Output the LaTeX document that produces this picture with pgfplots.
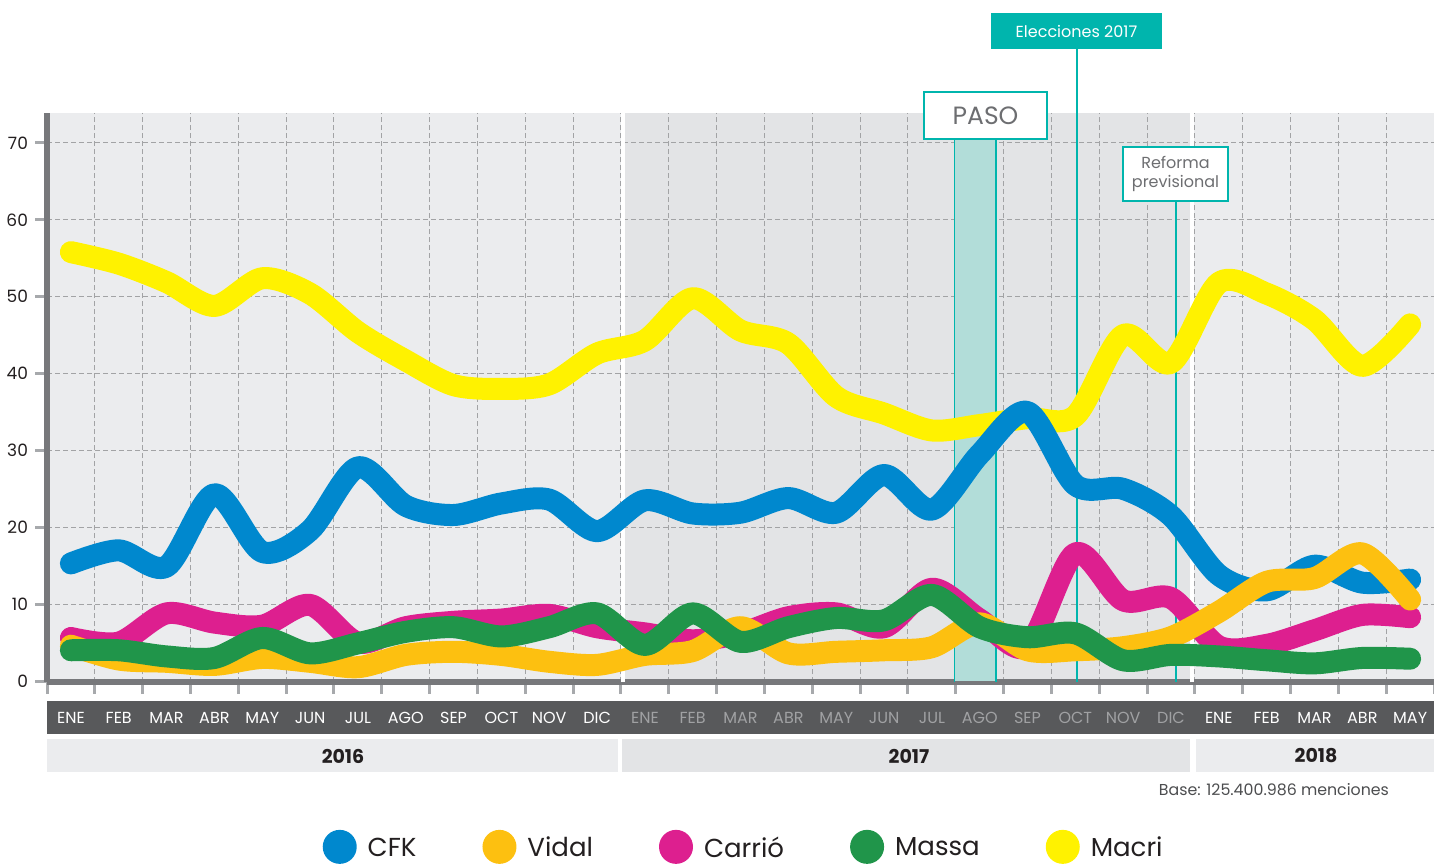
\documentclass[border=0pt]{standalone}
\usepackage{pgfplots}
\usepackage{pgfplotstable}
\pgfplotsset{compat=1.18}
\usepackage{fontspec}
\setmainfont{Poppins}

\definecolor{cfk}{HTML}{0088CE}
\definecolor{vidal}{HTML}{FDC010}
\definecolor{carrio}{HTML}{DD1F8F}
\definecolor{massa}{HTML}{20954A}
\definecolor{macri}{HTML}{FFF200}
\definecolor{tealc}{HTML}{00B5AD}
\definecolor{pasofill}{HTML}{B2DDD9}
\definecolor{bgA}{HTML}{EBECEE}
\definecolor{bgB}{HTML}{E3E4E6}
\definecolor{axisgray}{HTML}{77787B}
\definecolor{tickgray}{HTML}{A7A9AC}
\definecolor{gridgray}{HTML}{A2A3A5}
\definecolor{bandgray}{HTML}{58595B}
\definecolor{month17}{HTML}{A0A1A3}
\definecolor{txt}{HTML}{231F20}
\definecolor{boxtxt}{HTML}{6D6E71}

% menciones por mes (%), ENE 2016 - MAY 2018
\pgfplotstableread{
x    cfk  vidal carrio massa macri
0.5  15.3 4.6   5.6    4.0   55.8
1.5  17.0 2.8   5.0    4.0   54.3
2.5  14.9 2.5   8.8    3.2   51.9
3.5  24.3 2.1   7.6    3.0   48.8
4.5  16.8 3.0   7.2    5.6   52.4
5.5  19.6 2.5   9.9    3.6   50.4
6.5  27.8 1.8   5.0    4.9   45.4
7.5  22.8 3.4   7.0    6.4   41.7
8.5  21.6 3.8   7.7    7.0   38.5
9.5  23.1 3.4   8.0    5.8   38.0
10.5 23.6 2.5   8.6    7.0   38.6
11.5 19.5 2.1   7.0    8.8   42.6
12.5 23.5 3.4   6.2    4.7   44.3
13.5 21.8 3.9   5.3    8.8   49.8
14.5 21.9 7.0   6.2    5.1   45.6
15.5 23.8 3.6   8.3    7.0   43.9
16.5 21.9 3.8   8.8    8.2   37.0
17.5 26.8 4.0   7.0    7.9   34.8
18.5 22.3 4.4   12.0   11.2  32.6
19.5 29.5 7.5   8.0    7.0   33.3
20.5 35.0 4.0   4.5    5.7   34.2
21.5 25.5 4.0   16.6   6.2   34.5
22.5 25.0 4.4   10.5   2.7   45.0
23.5 21.5 5.7   10.8   3.4   41.4
24.5 13.8 9.0   4.5    3.2   51.8
25.5 11.8 12.9  4.7    2.7   50.4
26.5 15.0 13.4  6.6    2.3   47.0
27.5 12.8 16.6  8.6    3.0   41.0
28.5 13.2 10.6  8.3    2.9   46.4
}\datatable

\begin{document}
\begin{tikzpicture}[x=0.5pt,y=-0.5pt]
\path[use as bounding box] (0,0) rectangle (1434,864);

% fondos por año
\fill[bgA] (47,113) rectangle (1434,682);
\fill[bgB] (621,113) rectangle (1193,682);

\begin{axis}[
    at={(23.5pt,-341pt)}, anchor=south west,
    scale only axis, width=693.5pt, height=284.5pt,
    xmin=0, xmax=29, ymin=-0.13, ymax=73.9,
    axis x line*=bottom, axis y line*=left,
    axis line style={-, draw=axisgray, line width=3pt},
    xtick={0,...,29}, xticklabels={},
    ytick={0,10,...,70},
    tick align=outside, major tick length=6pt,
    major tick style={draw=tickgray, line width=1.5pt},
    grid=major,
    major grid style={draw=gridgray, line width=0.5pt, dash pattern=on 2.5pt off 1.5pt},
    yticklabel style={font=\fontsize{8.5}{10}\selectfont, text=txt},
    /pgf/number format/assume math mode=true,
    legend columns=5,
    legend image code/.code={
        \fill[#1, draw=none] (8.5pt,0.8pt) circle[radius=8.5pt];},
    legend style={at={(0.503,-0.290)}, anchor=center, draw=none, fill=none,
        font=\fontsize{13}{15}\selectfont, text=txt,
        /tikz/every odd column/.append style={column sep=3.5pt},
        /tikz/every even column/.append style={column sep=31pt}},
    every axis plot/.append style={line width=11pt, smooth, line cap=round, line join=round, forget plot},
]
% separadores blancos entre años
\draw[white, line width=2pt] (axis cs:12.05,-0.13) -- (axis cs:12.05,73.9);
\draw[white, line width=2pt] (axis cs:23.94,-0.13) -- (axis cs:23.94,73.9);
% PASO y lineas de eventos
\fill[pasofill] (axis cs:18.98,0) rectangle (axis cs:19.84,70.5);
\draw[tealc, line width=0.6pt] (axis cs:18.98,-0.13) -- (axis cs:18.98,70.5)
    (axis cs:19.84,-0.13) -- (axis cs:19.84,70.5);
\draw[tealc, line width=1pt] (axis cs:21.535,-0.13) -- (axis cs:21.535,73.9);
\draw[tealc, line width=1pt] (axis cs:23.60,-0.13) -- (axis cs:23.60,62.5);

\addplot[macri] table[x=x, y=macri] {\datatable};
\addplot[cfk] table[x=x, y=cfk] {\datatable};
\addplot[carrio] table[x=x, y=carrio] {\datatable};
\addplot[vidal] table[x=x, y=vidal] {\datatable};
\addplot[massa] table[x=x, y=massa] {\datatable};

\addlegendimage{color=cfk}\addlegendentry{CFK}
\addlegendimage{color=vidal}\addlegendentry{Vidal}
\addlegendimage{color=carrio}\addlegendentry{Carrió}
\addlegendimage{color=massa}\addlegendentry{Massa}
\addlegendimage{color=macri}\addlegendentry{Macri}
\end{axis}

% cajas de eventos
\draw[tealc, line width=1pt] (1077,49) -- (1077,113);
\fill[tealc] (991,13) rectangle (1162,49);
\node[white, font=\fontsize{8}{10}\selectfont] at (1076.5,31) {Elecciones 2017};
\draw[tealc, line width=1pt, fill=white] (924,92) rectangle (1047,139);
\node[boxtxt, font=\fontsize{12.5}{14}\selectfont] at (985.5,115.5) {PASO};
\draw[tealc, line width=1pt, fill=white] (1123,147) rectangle (1228,201);
\node[boxtxt, font=\fontsize{8}{9.5}\selectfont, align=center] at (1175.5,174) {Reforma\\previsional};

% banda de meses
\fill[bandgray] (47,701) rectangle (1434,734);
\foreach \m [count=\i from 0] in {ENE,FEB,MAR,ABR,MAY,JUN,JUL,AGO,SEP,OCT,NOV,DIC}
    \node[white, font=\fontsize{8}{10}\selectfont] at ({47+47.83*(\i+0.5)},718) {\m};
\foreach \m [count=\i from 12] in {ENE,FEB,MAR,ABR,MAY,JUN,JUL,AGO,SEP,OCT,NOV,DIC}
    \node[month17, font=\fontsize{8}{10}\selectfont] at ({47+47.83*(\i+0.5)},718) {\m};
\foreach \m [count=\i from 24] in {ENE,FEB,MAR,ABR,MAY}
    \node[white, font=\fontsize{8}{10}\selectfont] at ({47+47.83*(\i+0.5)},718) {\m};

% banda de años
\fill[bgA] (47,739) rectangle (618,772);
\fill[bgB] (622,739) rectangle (1190,772);
\fill[bgA] (1196,739) rectangle (1434,772);
\node[txt, font=\fontsize{9.5}{11}\selectfont\bfseries] at (343,756) {2016};
\node[txt, font=\fontsize{9.5}{11}\selectfont\bfseries] at (909,756) {2017};
\node[txt, font=\fontsize{9.5}{11}\selectfont\bfseries] at (1316,756) {2018};

\node[anchor=east, text=boxtxt!70!black, font=\fontsize{7.9}{9}\selectfont] at (1396,790) {Base: 125.400.986 menciones};
\end{tikzpicture}
\end{document}
